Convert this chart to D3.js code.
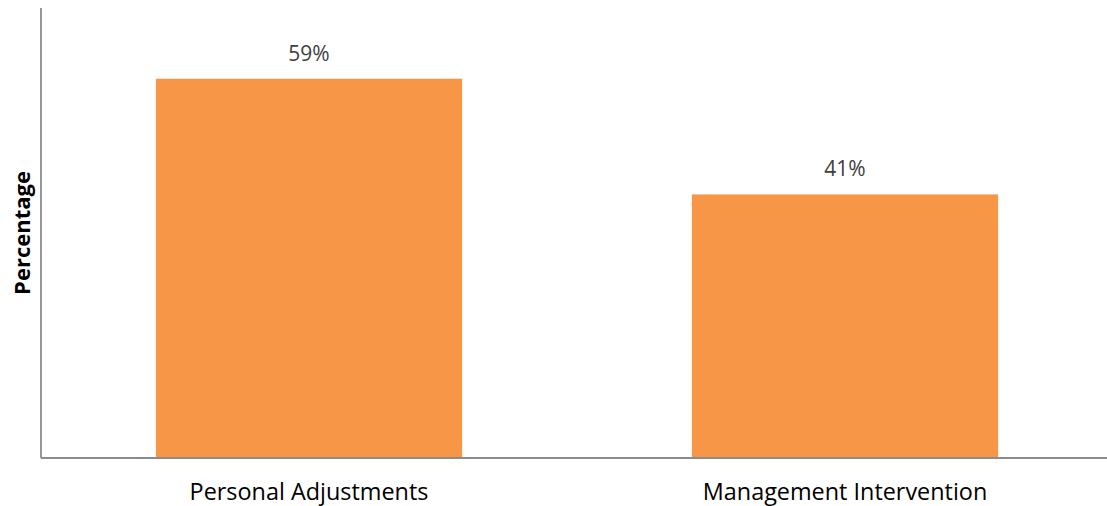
<!DOCTYPE html>
<html>
<head>
<meta charset="utf-8">
<script src="https://cdn.jsdelivr.net/npm/d3@7"></script>
<style>
  html, body { margin: 0; padding: 0; background: #fff; }
  svg { display: block; font-family: "Open Sans", "Noto Sans", sans-serif; }
</style>
</head>
<body>
<svg id="chart" width="1107" height="506"></svg>
<script>
// Share of responses by approach
const categories = ["Personal Adjustments", "Management Intervention"];
const values = [59, 41];
const yAxisTitle = "Percentage";

const svg = d3.select("#chart");
const plot = { left: 41, right: 1113, top: 8, bottom: 458 };

const x = d3.scaleBand()
  .domain(categories)
  .range([plot.left, plot.right])
  .paddingInner(0.4286)
  .paddingOuter(0.2143);

const y = d3.scaleLinear()
  .domain([0, 70])
  .range([plot.bottom, plot.top]);

// Bars
svg.append("g")
  .selectAll("rect")
  .data(values)
  .join("rect")
  .attr("x", (d, i) => x(categories[i]))
  .attr("y", d => y(d))
  .attr("width", x.bandwidth())
  .attr("height", d => y(0) - y(d))
  .attr("fill", "#F79646");

// Value labels
svg.append("g")
  .selectAll("text")
  .data(values)
  .join("text")
  .attr("x", (d, i) => x(categories[i]) + x.bandwidth() / 2)
  .attr("y", d => y(d) - 18)
  .attr("text-anchor", "middle")
  .attr("font-size", 21)
  .attr("fill", "#404040")
  .text(d => d + "%");

// Axes lines
svg.append("line")
  .attr("x1", plot.left).attr("x2", plot.left)
  .attr("y1", plot.top).attr("y2", plot.bottom)
  .attr("stroke", "#8c8c8c").attr("stroke-width", 1.8);

svg.append("line")
  .attr("x1", plot.left).attr("x2", 1107)
  .attr("y1", plot.bottom).attr("y2", plot.bottom)
  .attr("stroke", "#8c8c8c").attr("stroke-width", 1.8);

// Category labels
svg.append("g")
  .selectAll("text")
  .data(categories)
  .join("text")
  .attr("x", d => x(d) + x.bandwidth() / 2)
  .attr("y", 500)
  .attr("text-anchor", "middle")
  .attr("font-size", 23.4)
  .attr("fill", "#000")
  .text(d => d);

// Y axis title
svg.append("text")
  .attr("transform", "translate(30, 233) rotate(-90)")
  .attr("text-anchor", "middle")
  .attr("font-size", 22)
  .attr("font-weight", "bold")
  .attr("fill", "#000")
  .text(yAxisTitle);
</script>
</body>
</html>
